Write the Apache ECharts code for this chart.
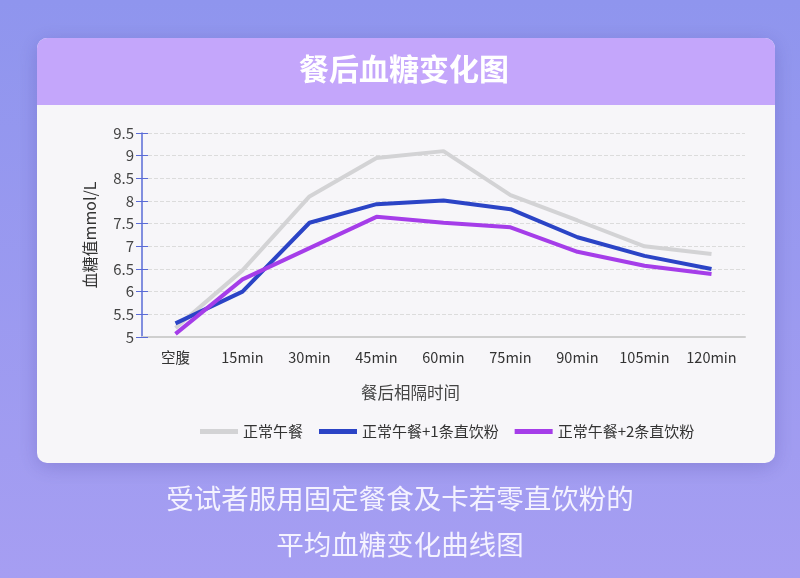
<!DOCTYPE html>
<html><head><meta charset="utf-8">
<script src="https://cdn.jsdelivr.net/npm/echarts@6/dist/echarts.min.js"></script>
<style>html,body{margin:0;padding:0;}#c{width:800px;height:578px;}</style>
</head><body><div id="c"></div>
<script>
var categories = ['空腹','15min','30min','45min','60min','75min','90min','105min','120min'];
var seriesNames = ['正常午餐','正常午餐+1条直饮粉','正常午餐+2条直饮粉'];
var normal = [5.2, 6.47, 8.1, 8.95, 9.1, 8.13, 7.57, 7.0, 6.83];
var plus1 = [5.3, 6.0, 7.52, 7.93, 8.01, 7.82, 7.2, 6.79, 6.5];
var plus2 = [5.07, 6.27, 6.96, 7.65, 7.52, 7.42, 6.88, 6.57, 6.39];
var yTicks = {min: 5, max: 9.5, interval: 0.5};
var colors = ['#d3d3d5', '#2b44c6', '#a53de9'];
var FONT = '"Noto Sans CJK SC","Noto Sans",sans-serif';

var chart = echarts.init(document.getElementById('c'), null, {renderer: 'canvas'});
var option = {
  animation: false,
  textStyle: {fontFamily: FONT},
  graphic: [
    {type: 'rect', z: -10, silent: true, shape: {x: 0, y: 0, width: 800, height: 578},
     style: {fill: new echarts.graphic.LinearGradient(0, 0, 0, 1, [{offset: 0, color: '#8f95ee'}, {offset: 1, color: '#a69ef2'}])}},
    {type: 'rect', z: -9, silent: true, shape: {x: 37, y: 38, width: 738, height: 425, r: 10},
     style: {fill: '#f7f6f9', shadowBlur: 20, shadowColor: 'rgba(60,50,140,0.25)', shadowOffsetY: 4}},
    {type: 'rect', z: -8, silent: true, shape: {x: 37, y: 38, width: 738, height: 67, r: [10, 10, 0, 0]},
     style: {fill: '#c4a6fb'}},
    {type: 'text', z: 10, left: 299, top: 54, style: {text: '餐后血糖变化图', fill: '#ffffff', font: 'bold 30px ' + FONT}},
    {type: 'text', z: 10, left: 361, top: 384, style: {text: '餐后相隔时间', fill: '#444444', font: '16.5px ' + FONT}},
    {type: 'text', z: 10, left: 'center', top: 485, style: {text: '受试者服用固定餐食及卡若零直饮粉的', fill: '#f4f2ff', font: '27.5px ' + FONT}},
    {type: 'text', z: 10, left: 'center', top: 531, style: {text: '平均血糖变化曲线图', fill: '#f4f2ff', font: '27.5px ' + FONT}}
  ],
  legend: {
    data: seriesNames, left: 195, top: 419, icon: 'rect', itemWidth: 38, itemHeight: 5, itemGap: 16,
    textStyle: {fontSize: 15, color: '#333', fontFamily: FONT}
  },
  grid: {left: 142, right: 55, top: 133, bottom: 578 - 337, containLabel: false},
  xAxis: {
    type: 'category', data: categories, boundaryGap: true,
    axisLine: {lineStyle: {color: '#cfcfcf', width: 2}},
    axisTick: {show: false},
    axisLabel: {color: '#333', fontSize: 14.5, margin: 13, interval: 0, hideOverlap: false}
  },
  yAxis: [{
    type: 'value', min: yTicks.min, max: yTicks.max, interval: yTicks.interval,
    name: '血糖值mmol/L', nameLocation: 'middle', nameGap: 44, nameRotate: 90,
    nameTextStyle: {color: '#333', fontSize: 16},
    axisLine: {show: true, lineStyle: {color: '#5a6bd6', width: 1.5}},
    axisTick: {show: true, length: 6, lineStyle: {color: '#5a6bd6'}},
    axisLabel: {color: '#444', fontSize: 15, margin: 8},
    splitLine: {show: true, lineStyle: {color: '#dcdcdc', type: 'dashed'}}
  }, {
    type: 'value', position: 'left', min: yTicks.min, max: yTicks.max, interval: yTicks.interval,
    axisLine: {show: false},
    axisTick: {show: true, inside: true, length: 6, lineStyle: {color: '#5a6bd6'}},
    axisLabel: {show: false}, splitLine: {show: false}
  }],
  series: [
    {name: seriesNames[0], type: 'line', data: normal, symbol: 'none', lineStyle: {width: 4, color: colors[0]}, itemStyle: {color: colors[0]}},
    {name: seriesNames[1], type: 'line', data: plus1, symbol: 'none', lineStyle: {width: 4, color: colors[1]}, itemStyle: {color: colors[1]}},
    {name: seriesNames[2], type: 'line', data: plus2, symbol: 'none', lineStyle: {width: 4, color: colors[2]}, itemStyle: {color: colors[2]}}
  ]
};
chart.setOption(option);
</script></body></html>
